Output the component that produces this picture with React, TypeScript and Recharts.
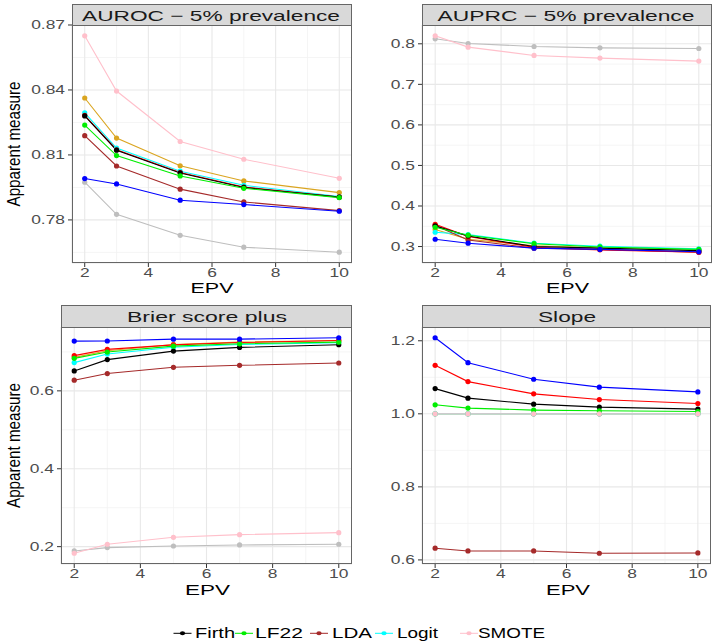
import React from 'react';
import { LineChart, Line, XAxis, YAxis, CartesianGrid } from 'recharts';

// EPV values on the x axis
const epv = [2, 3, 5, 7, 10];
const xTicks = [2, 4, 6, 8, 10];
const xMinor = [3, 5, 7, 9];

// AUROC - 5% prevalence
const aurocFirth = [0.828, 0.8122, 0.8017, 0.795, 0.7905];
const aurocLF22 = [0.8238, 0.8097, 0.8003, 0.7946, 0.7903];
const aurocLDA = [0.8189, 0.8049, 0.7942, 0.7883, 0.7843];
const aurocLogit = [0.8294, 0.8132, 0.8025, 0.796, 0.7908];
const aurocSMOTE = [0.865, 0.8395, 0.8162, 0.808, 0.7992];
const aurocBlue = [0.7991, 0.7966, 0.7891, 0.7871, 0.784];
const aurocRed = [0.8283, 0.8124, 0.8019, 0.7952, 0.7906];
const aurocGold = [0.8363, 0.8178, 0.805, 0.798, 0.7926];
const aurocGray = [0.7974, 0.7826, 0.7729, 0.7674, 0.7651];

// AUPRC - 5% prevalence
const auprcFirth = [0.351, 0.326, 0.3, 0.296, 0.29];
const auprcLF22 = [0.3476, 0.328, 0.307, 0.299, 0.293];
const auprcLDA = [0.352, 0.316, 0.296, 0.293, 0.2861];
const auprcLogit = [0.3353, 0.3294, 0.3083, 0.3009, 0.2943];
const auprcSMOTE = [0.8197, 0.7918, 0.7713, 0.7647, 0.7573];
const auprcBlue = [0.318, 0.3082, 0.296, 0.293, 0.287];
const auprcRed = [0.355, 0.325, 0.298, 0.2918, 0.2861];
const auprcGold = [0.342, 0.318, 0.302, 0.297, 0.291];
const auprcGray = [0.8123, 0.8007, 0.7934, 0.79, 0.7884];

// Brier score plus
const brierFirth = [0.6511, 0.6802, 0.7021, 0.7116, 0.7184];
const brierLF22 = [0.6835, 0.6996, 0.7149, 0.7208, 0.7251];
const brierLDA = [0.6273, 0.6444, 0.6605, 0.6656, 0.6715];
const brierLogit = [0.6725, 0.6945, 0.712, 0.719, 0.7235];
const brierSMOTE = [0.1831, 0.2061, 0.224, 0.2308, 0.2359];
const brierBlue = [0.7277, 0.728, 0.7328, 0.7328, 0.7363];
const brierRed = [0.6904, 0.7065, 0.718, 0.724, 0.7294];
const brierGold = [0.686, 0.703, 0.7192, 0.7251, 0.7294];
const brierGray = [0.189, 0.1976, 0.2017, 0.2043, 0.2061];

// Slope
const slopeFirth = [1.069, 1.0429, 1.0265, 1.0184, 1.0129];
const slopeLF22 = [1.0247, 1.0156, 1.0102, 1.0083, 1.0064];
const slopeLDA = [0.632, 0.6246, 0.6246, 0.6183, 0.619];
const slopeLogit = [1, 1, 1, 1, 1];
const slopeSMOTE = [1, 1, 1, 1, 1];
const slopeBlue = [1.2082, 1.14, 1.0947, 1.073, 1.06];
const slopeRed = [1.1329, 1.0882, 1.0546, 1.039, 1.0282];
const slopeGold = [1, 1, 1, 1, 1];
const slopeGray = [1, 1, 1, 1, 1];

const legendNames = ['Firth', 'LF22', 'LDA', 'Logit', 'SMOTE'];

// draw order (last one on top)
const methods = [
  { key: 'gray', color: '#BEBEBE' },
  { key: 'gold', color: '#DAA520' },
  { key: 'Logit', color: '#00FFFF' },
  { key: 'LDA', color: '#A52A2A' },
  { key: 'red', color: '#FF0000' },
  { key: 'Firth', color: '#000000' },
  { key: 'LF22', color: '#00EE00' },
  { key: 'blue', color: '#0000FF' },
  { key: 'SMOTE', color: '#FFC0CB' },
];
const colorOf = (k: string) => methods.find((m) => m.key === k)!.color;

const FONT = '"Liberation Sans", Arial, Helvetica, sans-serif';
const SX = 1.45; // the figure is stretched horizontally
const YW = 50;
const XH = 30;
const TOP = 12;

type Box = { left: number; right: number; top: number; bottom: number };

const buildRows = (series: Record<string, number[]>) =>
  epv.map((e, i) => {
    const row: any = { epv: e };
    Object.keys(series).forEach((k) => (row[k] = series[k][i]));
    return row;
  });

const expand = (series: Record<string, number[]>): [number, number] => {
  const all = Object.values(series).flat();
  const lo = Math.min(...all);
  const hi = Math.max(...all);
  const pad = (hi - lo) * 0.05;
  return [lo - pad, hi + pad];
};

const XTick = (props: any) => {
  const { x, y, payload } = props;
  return (
    <g transform={`translate(${x},${y})`}>
      <text transform={`scale(${SX},1)`} x={0} y={7.5} textAnchor="middle" fontSize={12} fontFamily={FONT} fill="#4D4D4D">
        {payload.value}
      </text>
    </g>
  );
};

const makeYTick = (decimals: number) => (props: any) => {
  const { x, y, payload } = props;
  return (
    <g transform={`translate(${x},${y})`}>
      <text transform={`scale(${SX},1)`} x={0} y={4.3} textAnchor="end" fontSize={12} fontFamily={FONT} fill="#4D4D4D">
        {Number(payload.value).toFixed(decimals)}
      </text>
    </g>
  );
};

function Panel({ box, series, yTicks, yMinor, decimals }: { box: Box; series: Record<string, number[]>; yTicks: number[]; yMinor: number[]; decimals: number }) {
  const rows = buildRows(series);
  const domain = expand(series);
  const YTick = makeYTick(decimals);
  return (
    <div style={{ position: 'absolute', left: box.left - YW, top: box.top - TOP }}>
      <LineChart
        width={box.right - box.left + YW}
        height={box.bottom - box.top + XH + TOP}
        data={rows}
        margin={{ top: TOP, right: 0, bottom: 0, left: 0 }}
      >
        <CartesianGrid stroke="#F3F3F3" strokeWidth={0.8} horizontalValues={yMinor} verticalValues={xMinor} />
        <CartesianGrid stroke="#E8E8E8" strokeWidth={1.1} />
        <XAxis
          dataKey="epv"
          type="number"
          domain={[1.6, 10.4]}
          ticks={xTicks}
          interval={0}
          height={XH}
          tickSize={4}
          tickMargin={2}
          axisLine={false}
          tickLine={{ stroke: '#333333' }}
          tick={<XTick />}
          allowDataOverflow
        />
        <YAxis
          type="number"
          domain={domain}
          ticks={yTicks}
          interval={0}
          width={YW}
          tickSize={4}
          tickMargin={3}
          axisLine={false}
          tickLine={{ stroke: '#333333' }}
          tick={<YTick />}
          allowDataOverflow
        />
        {methods.map((m) => (
          <Line
            key={m.key}
            dataKey={m.key}
            type="linear"
            stroke={m.color}
            strokeWidth={1.1}
            dot={{ r: 2.6, fill: m.color, stroke: m.color, strokeWidth: 0 }}
            activeDot={false}
            isAnimationActive={false}
          />
        ))}
      </LineChart>
    </div>
  );
}

const boxes: Box[] = [
  { left: 72, right: 352, top: 25, bottom: 263 },
  { left: 422, right: 712, top: 25, bottom: 263 },
  { left: 61, right: 352, top: 327, bottom: 564 },
  { left: 422, right: 711, top: 327, bottom: 564 },
];
const stripTops = [4, 4, 305, 305];
const stripTitles = [
  { text: 'AUROC \u2212 5% prevalence', cx: 211, y: 20.7, len: 258 },
  { text: 'AUPRC \u2212 5% prevalence', cx: 566, y: 20.7, len: 257 },
  { text: 'Brier score plus', cx: 207, y: 321.5, len: 160 },
  { text: 'Slope', cx: 567, y: 321.5, len: 58 },
];
const epvTitles = [
  { cx: 212, y: 292.7, len: 43 },
  { cx: 567.5, y: 292.7, len: 43 },
  { cx: 207.5, y: 595, len: 45 },
  { cx: 568, y: 595, len: 44 },
];
const legendItems = [
  { key: 'Firth', cx: 182.5, tx: 195, len: 40 },
  { key: 'LF22', cx: 244, tx: 255, len: 48 },
  { key: 'LDA', cx: 319, tx: 332, len: 40 },
  { key: 'Logit', cx: 384, tx: 397, len: 41 },
  { key: 'SMOTE', cx: 469, tx: 478, len: 67 },
];

export default function App() {
  const auroc = { gray: aurocGray, gold: aurocGold, Logit: aurocLogit, LDA: aurocLDA, red: aurocRed, Firth: aurocFirth, LF22: aurocLF22, blue: aurocBlue, SMOTE: aurocSMOTE };
  const auprc = { gray: auprcGray, gold: auprcGold, Logit: auprcLogit, LDA: auprcLDA, red: auprcRed, Firth: auprcFirth, LF22: auprcLF22, blue: auprcBlue, SMOTE: auprcSMOTE };
  const brier = { gray: brierGray, gold: brierGold, Logit: brierLogit, LDA: brierLDA, red: brierRed, Firth: brierFirth, LF22: brierLF22, blue: brierBlue, SMOTE: brierSMOTE };
  const slope = { gray: slopeGray, gold: slopeGold, Logit: slopeLogit, LDA: slopeLDA, red: slopeRed, Firth: slopeFirth, LF22: slopeLF22, blue: slopeBlue, SMOTE: slopeSMOTE };

  return (
    <div style={{ position: 'absolute', left: 0, top: 0, width: 714, height: 641, background: '#FFFFFF', overflow: 'hidden' }}>
      <Panel box={boxes[0]} series={auroc} yTicks={[0.78, 0.81, 0.84, 0.87]} yMinor={[0.765, 0.795, 0.825, 0.855]} decimals={2} />
      <Panel box={boxes[1]} series={auprc} yTicks={[0.3, 0.4, 0.5, 0.6, 0.7, 0.8]} yMinor={[0.35, 0.45, 0.55, 0.65, 0.75]} decimals={1} />
      <Panel box={boxes[2]} series={brier} yTicks={[0.2, 0.4, 0.6]} yMinor={[0.3, 0.5, 0.7]} decimals={1} />
      <Panel box={boxes[3]} series={slope} yTicks={[0.6, 0.8, 1.0, 1.2]} yMinor={[0.7, 0.9, 1.1]} decimals={1} />

      <svg width={714} height={641} style={{ position: 'absolute', left: 0, top: 0, pointerEvents: 'none' }} fontFamily={FONT}>
        {boxes.map((b, i) => (
          <g key={i}>
            <rect x={b.left + 0.5} y={stripTops[i] + 0.5} width={b.right - b.left - 1} height={b.top - stripTops[i]} fill="#D9D9D9" stroke="#666666" strokeWidth={1} />
            <rect x={b.left + 0.5} y={b.top + 0.5} width={b.right - b.left - 1} height={b.bottom - b.top - 1} fill="none" stroke="#666666" strokeWidth={1} />
          </g>
        ))}
        {stripTitles.map((s, i) => (
          <text key={i} x={s.cx} y={s.y} textAnchor="middle" fontSize={15} fill="#1A1A1A" textLength={s.len} lengthAdjust="spacingAndGlyphs">
            {s.text}
          </text>
        ))}
        {epvTitles.map((t, i) => (
          <text key={i} x={t.cx} y={t.y} textAnchor="middle" fontSize={15} fill="#000000" textLength={t.len} lengthAdjust="spacingAndGlyphs">
            EPV
          </text>
        ))}
        {[144, 445.5].map((cy, i) => (
          <text key={i} transform={`translate(19.5,${cy}) rotate(-90)`} x={0} y={0} textAnchor="middle" fontSize={19} fill="#000000" textLength={125} lengthAdjust="spacingAndGlyphs">
            Apparent measure
          </text>
        ))}
        {legendItems.map((l) => (
          <g key={l.key}>
            <line x1={l.cx - 9} x2={l.cx + 9} y1={633.3} y2={633.3} stroke={colorOf(l.key)} strokeWidth={1} />
            <ellipse cx={l.cx} cy={633.3} rx={2.6} ry={2} fill={colorOf(l.key)} />
            <text x={l.tx} y={638.3} fontSize={15} fill="#000000" textLength={l.len} lengthAdjust="spacingAndGlyphs">
              {legendNames[legendNames.indexOf(l.key)]}
            </text>
          </g>
        ))}
      </svg>
    </div>
  );
}
